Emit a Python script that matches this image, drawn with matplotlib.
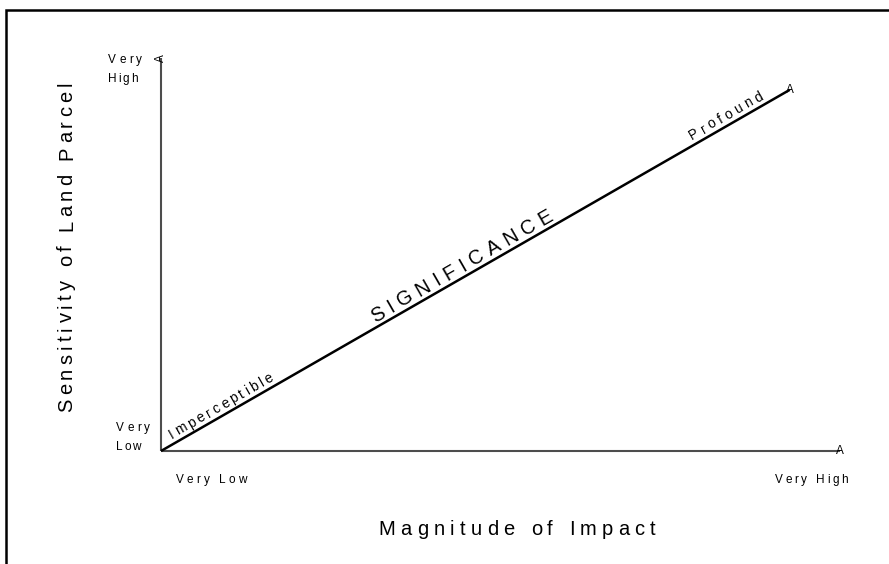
import math
import matplotlib
matplotlib.use("Agg")
import matplotlib.pyplot as plt
from matplotlib.patches import Rectangle
from matplotlib.font_manager import FontProperties, findfont, get_font

plt.rcParams['font.family'] = ['Liberation Sans', 'DejaVu Sans']

# ---- data ----
x_axis_label = "Magnitude of Impact"
y_axis_label = "Sensitivity of Land Parcel"
x_tick_labels = ["Very Low", "Very High"]
y_tick_labels = [["Very", "Low"], ["Very", "High"]]
diag_x = [0.0, 0.926]
diag_y = [0.0, 0.919]
diag_labels = ["Imperceptible", "SIGNIFICANCE", "Profound"]
diag_label_pos = [0.103, 0.4865, 0.906]   # fraction along the diagonal

W, H = 889, 564
DPI = 100
fig = plt.figure(figsize=(W / DPI, H / DPI), dpi=DPI)
fig.patch.set_facecolor("white")

_font = get_font(findfont(FontProperties(family="Liberation Sans")))


def tracked(s, x, y, angle, fs, length, ha="center"):
    """Draw text with letter spacing; (x, y) = baseline anchor in pixels (y down)."""
    _font.set_size(fs, DPI)
    advs = [_font.load_char(ord(c)).linearHoriAdvance / 65536.0 for c in s]
    n = len(s)
    track = (length - sum(advs)) / max(n - 1, 1)
    total = sum(advs) + track * (n - 1)
    if ha == "center":
        pos = -total / 2
    elif ha == "right":
        pos = -total
    else:
        pos = 0.0
    th = math.radians(angle)
    dx, dy = math.cos(th), math.sin(th)
    for c, a in zip(s, advs):
        px = x + pos * dx
        py = (H - y) + pos * dy
        if c != " ":
            fig.text(px / W, py / H, c, rotation=angle, rotation_mode="anchor",
                     ha="left", va="baseline", fontsize=fs, color="black")
        pos += a + track


# frame (partially visible border)
fig.add_artist(Rectangle((5.5 / W, -0.5), 2.0, 1.5 - 9.5 / H, transform=fig.transFigure,
                         fill=False, edgecolor="black", linewidth=1.8))

x0, y0 = 161, 451
x1, y1 = 840, 58
ax = fig.add_axes([x0 / W, (H - y0) / H, (x1 - x0) / W, (y0 - y1) / H])
ax.set_xlim(0, 1)
ax.set_ylim(0, 1)
ax.axis("off")

# axes lines
ax.plot([0, 1], [0, 0], color="#4d4d4d", lw=1.5, clip_on=False, solid_capstyle="butt")
ax.plot([0, 0], [0, 1], color="#4d4d4d", lw=1.5, clip_on=False, solid_capstyle="butt")
# diagonal
ax.plot(diag_x, diag_y, color="black", lw=1.8, clip_on=False, solid_capstyle="butt")

# diagonal geometry in pixels
fig.canvas.draw()
p0 = ax.transData.transform((diag_x[0], diag_y[0]))
p1 = ax.transData.transform((diag_x[1], diag_y[1]))
ang = math.degrees(math.atan2(p1[1] - p0[1], p1[0] - p0[0]))

# arrow-like glyphs
ax.text(1.0, 0.0, "A", fontsize=8.5, ha="center", va="center", clip_on=False)
ax.text(0.0, 1.0, "A", fontsize=8.5, ha="center", va="center", rotation=90, clip_on=False)
ax.text(diag_x[1], diag_y[1], "A", fontsize=8.5, ha="center", va="center", rotation=ang - 30,
        clip_on=False)

# tick labels
TFS = 8.5
tracked(y_tick_labels[1][0], 108, 63, 0, TFS, 34, ha="left")
tracked(y_tick_labels[1][1], 108, 82, 0, TFS, 30, ha="left")
tracked(y_tick_labels[0][0], 116, 431, 0, TFS, 34, ha="left")
tracked(y_tick_labels[0][1], 116, 450, 0, TFS, 25, ha="left")
tracked(x_tick_labels[0], 176, 483, 0, TFS, 71, ha="left")
tracked(x_tick_labels[1], 848, 483, 0, TFS, 73, ha="right")

# axis titles
tracked(x_axis_label, 517, 535, 0, 14.5, 277)
tracked(y_axis_label, 72, 247, 90, 14.5, 330)

# diagonal labels
sizes = [10, 14.5, 10]
lengths = [118, 207, 83]
offs = [5, 5, 5]
for lab, t, fs, L, off in zip(diag_labels, diag_label_pos, sizes, lengths, offs):
    px = p0[0] + t * (p1[0] - p0[0])
    py = p0[1] + t * (p1[1] - p0[1])
    th = math.radians(ang)
    bx = px - off * math.sin(th)
    by = py + off * math.cos(th)
    tracked(lab, bx, H - by, ang, fs, L)

fig.savefig("out.png", dpi=DPI, facecolor="white")
